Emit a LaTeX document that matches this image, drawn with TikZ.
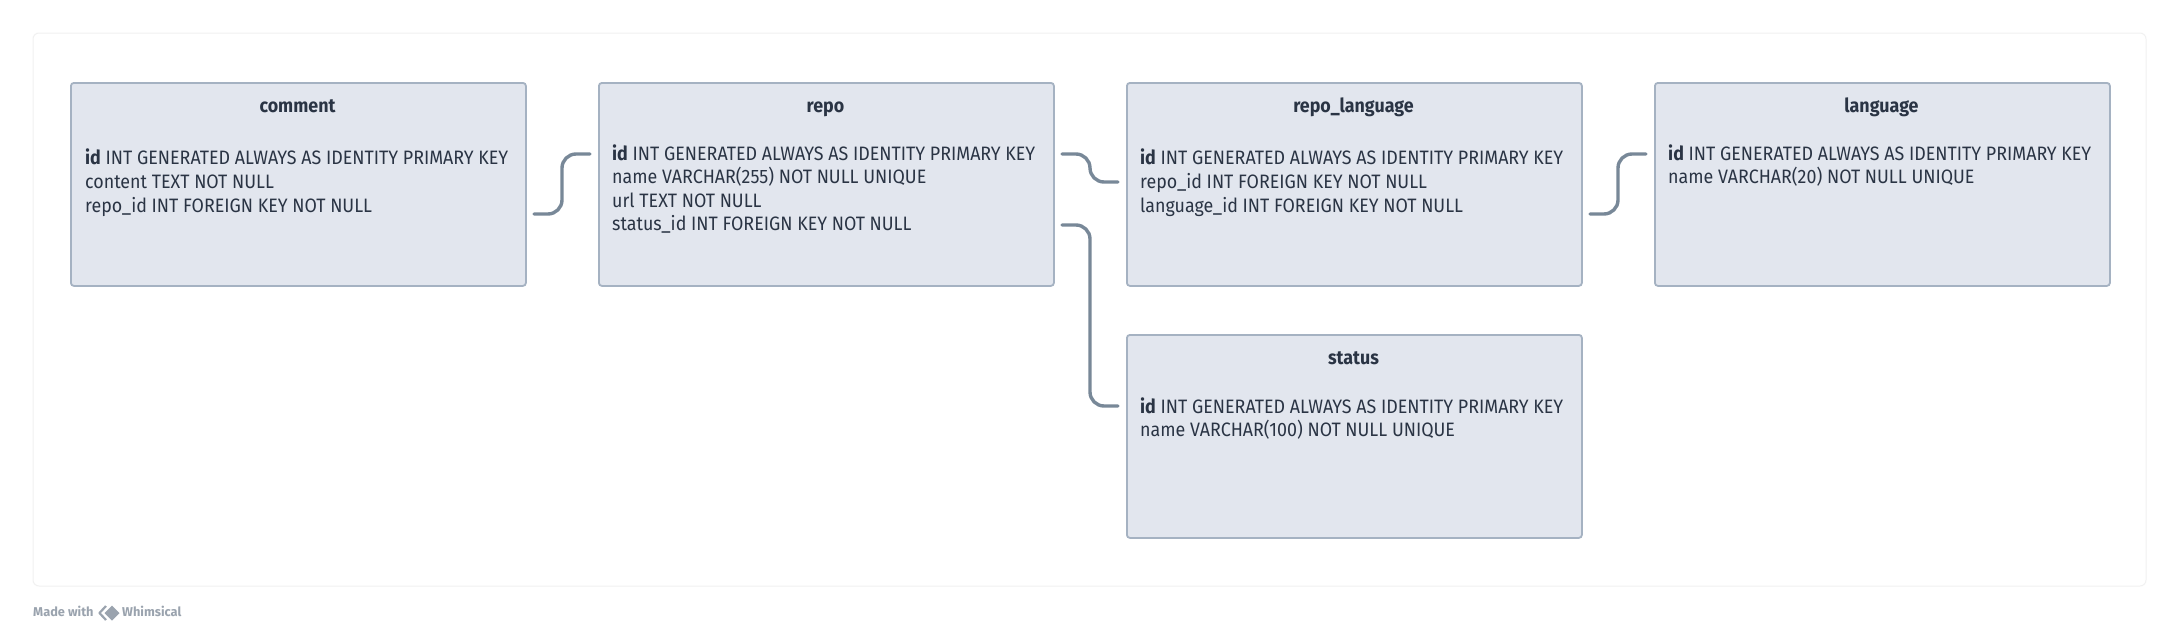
\documentclass[tikz,border=0pt]{standalone}
\usepackage{fontspec}
\setmainfont{Fira Sans}[FakeStretch=0.92]
\newfontfamily\wmfont{Fira Sans}
\definecolor{boxfill}{HTML}{E2E6EE}
\definecolor{boxline}{HTML}{A5B2C2}
\definecolor{txtcol}{HTML}{2A3444}
\definecolor{linkcol}{HTML}{788898}
\definecolor{framecol}{HTML}{F1F1F1}
\definecolor{wmcol}{HTML}{9AA3AE}
\newsavebox\measurebox
\tikzset{
  table/.style={draw=boxline, fill=boxfill, line width=1.8pt, rounded corners=3pt,
    minimum width=455pt, minimum height=203pt, anchor=north west, inner sep=0pt},
  row/.style={anchor=base west, inner sep=0pt, text=txtcol, font=\fontsize{\fsz pt}{\fsz pt}\selectfont},
  ttl/.style={anchor=base, inner sep=0pt, text=txtcol, font=\fontsize{\fsz pt}{\fsz pt}\selectfont\bfseries},
  link/.style={draw=linkcol, line width=3.4pt, line cap=round, rounded corners=14pt},
  wm/.style={anchor=base west, inner sep=0pt, text=wmcol, font=\wmfont\fontsize{12.8pt}{12.8pt}\selectfont\bfseries},
}
\begin{document}
\sbox\measurebox{\fontsize{10pt}{12pt}\selectfont\textbf{id} INT GENERATED ALWAYS AS IDENTITY PRIMARY KEY}%
\pgfmathsetmacro\fsz{4230/\the\wd\measurebox}%
\begin{tikzpicture}[x=1pt,y=-1pt]
\useasboundingbox (0,0) rectangle (2180,637);
\fill[white] (0,0) rectangle (2180,637);
\draw[framecol, line width=1pt, rounded corners=6pt] (33,33) rectangle (2146,586);

% tables
\node[table] (comment) at (70,82) {};
\node[table] (repo) at (598,82) {};
\node[table] (repolang) at (1126,82) {};
\node[table] (language) at (1654,82) {};
\node[table] (status) at (1126,334) {};

% comment
\node[ttl] (commentT) at (297.5,112) {comment};
\node[row] (comment1) at (85,164) {\textbf{id} INT GENERATED ALWAYS AS IDENTITY PRIMARY KEY};
\node[row] (comment2) at (85,188) {content TEXT NOT NULL};
\node[row] (comment3) at (85,212) {repo\_id INT FOREIGN KEY NOT NULL};

% repo
\node[ttl] (repoT) at (825.5,112) {repo};
\node[row] (repo1) at (612,160) {\textbf{id} INT GENERATED ALWAYS AS IDENTITY PRIMARY KEY};
\node[row] (repo2) at (612,183.5) {name VARCHAR(255) NOT NULL UNIQUE};
\node[row] (repo3) at (612,207) {url TEXT NOT NULL};
\node[row] (repo4) at (612,230.5) {status\_id INT FOREIGN KEY NOT NULL};

% repo_language
\node[ttl] (repolangT) at (1353.5,112) {repo\_language};
\node[row] (repolang1) at (1140,164) {\textbf{id} INT GENERATED ALWAYS AS IDENTITY PRIMARY KEY};
\node[row] (repolang2) at (1140,188) {repo\_id INT FOREIGN KEY NOT NULL};
\node[row] (repolang3) at (1140,212) {language\_id INT FOREIGN KEY NOT NULL};

% language
\node[ttl] (languageT) at (1881.5,112) {language};
\node[row] (language1) at (1668,160) {\textbf{id} INT GENERATED ALWAYS AS IDENTITY PRIMARY KEY};
\node[row] (language2) at (1668,183.5) {name VARCHAR(20) NOT NULL UNIQUE};

% status
\node[ttl] (statusT) at (1353.5,364) {status};
\node[row] (status1) at (1140,413) {\textbf{id} INT GENERATED ALWAYS AS IDENTITY PRIMARY KEY};
\node[row] (status2) at (1140,436) {name VARCHAR(100) NOT NULL UNIQUE};

% connector end points
\coordinate (c1a) at (534,214);
\coordinate (c1b) at (590,154);
\coordinate (c2a) at (1062,154);
\coordinate (c2b) at (1118,182);
\coordinate (c3a) at (1062,225);
\coordinate (c3b) at (1118,406);
\coordinate (c4a) at (1590,214);
\coordinate (c4b) at (1646,154);

\draw[link] (c1a) -- (562,214) -- (562,154) -- (c1b);
\draw[link] (c2a) -- (1090,154) -- (1090,182) -- (c2b);
\draw[link] (c3a) -- (1090,225) -- (1090,406) -- (c3b);
\draw[link] (c4a) -- (1618,214) -- (1618,154) -- (c4b);

% footer
\node[wm] (madewith) at (33,616) {Made with};
\draw[wmcol, line width=2.2pt, line join=round] (106,606) -- (99.5,613) -- (106,620);
\fill[wmcol] (112,605.5) -- (119.5,613) -- (112,620.5) -- (104.5,613) -- cycle;
\node[wm] (whims) at (122,616) {Whimsical};
\end{tikzpicture}
\end{document}
